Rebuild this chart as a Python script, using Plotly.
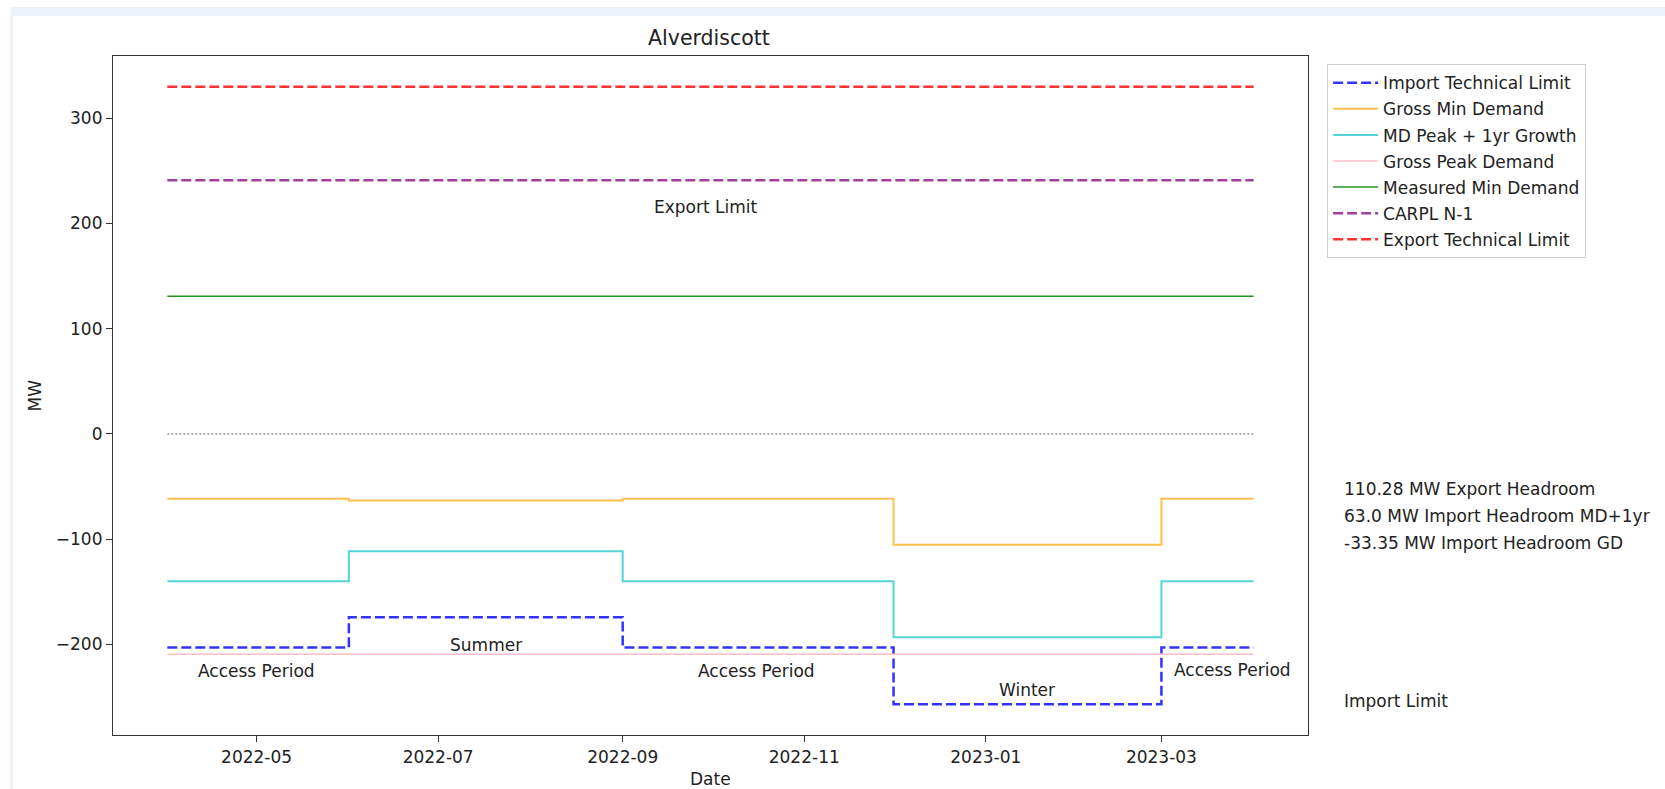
# Alverdiscott - seasonal limits and demand (step chart)

import plotly.graph_objects as go

# Period boundaries (each value holds until the next date)
period_dates = ["2022-04-01", "2022-06-01", "2022-09-01", "2022-12-01", "2023-03-01", "2023-04-01"]

import_technical_limit = [-203.0, -174.1, -203.0, -256.7, -203.0, -203.0]
gross_min_demand = [-61.6, -63.2, -61.6, -105.2, -61.6, -61.6]
md_peak_1yr_growth = [-140.0, -111.5, -140.0, -193.2, -140.0, -140.0]
gross_peak_demand = [-209.4, -209.4, -209.4, -209.4, -209.4, -209.4]
measured_min_demand = [130.72, 130.72, 130.72, 130.72, 130.72, 130.72]
carpl_n1 = [241.0, 241.0, 241.0, 241.0, 241.0, 241.0]
export_technical_limit = [329.7, 329.7, 329.7, 329.7, 329.7, 329.7]
zero_line = [0, 0, 0, 0, 0, 0]

# Period labels inside the plot
period_labels = ["Export Limit", "Summer", "Access Period", "Access Period", "Winter", "Access Period"]
period_label_dates = ["2022-09-29", "2022-07-17", "2022-05-01", "2022-10-16", "2023-01-15", "2023-03-25"]
period_label_values = [215.4, -200.2, -225.0, -225.0, -243.4, -224.0]

# Summary text to the right of the axes
side_texts = ["110.28 MW Export Headroom", "63.0 MW Import Headroom MD+1yr",
              "-33.35 MW Import Headroom GD", "Import Limit"]
side_text_values = [-52.7, -78.1, -103.5, -253.6]

x_tick_dates = ["2022-05-01", "2022-07-01", "2022-09-01", "2022-11-01", "2023-01-01", "2023-03-01"]
y_tick_values = [-200, -100, 0, 100, 200, 300]

FONT = "DejaVu Sans"
TXT = "#222222"

series = [
    ("Import Technical Limit", import_technical_limit, "rgba(0,0,255,0.8)", 2.5, "10px,4px"),
    ("Gross Min Demand", gross_min_demand, "rgba(255,165,0,0.7)", 2, "solid"),
    ("MD Peak + 1yr Growth", md_peak_1yr_growth, "rgba(64,208,208,0.9)", 2, "solid"),
    ("Gross Peak Demand", gross_peak_demand, "#ffc0cb", 1.5, "solid"),
    ("Measured Min Demand", measured_min_demand, "rgba(0,128,0,0.85)", 1.5, "solid"),
    ("CARPL N-1", carpl_n1, "rgba(128,0,128,0.75)", 2.5, "10px,4px"),
    ("Export Technical Limit", export_technical_limit, "rgba(255,0,0,0.8)", 2.5, "10px,4px"),
]

fig = go.Figure()

# thin dotted zero reference line
fig.add_trace(
    go.Scatter(
        x=period_dates,
        y=zero_line,
        mode="lines",
        line=dict(color="rgba(0,0,0,0.75)", width=0.8, dash="2px,2px"),
        showlegend=False,
        hoverinfo="skip",
    )
)

for i, (name, vals, color, width, dash) in enumerate(series):
    fig.add_trace(
        go.Scatter(
            x=period_dates,
            y=vals,
            mode="lines",
            name=name,
            legendgroup=f"g{i}",
            line=dict(color=color, width=width, dash=dash, shape="hv"),
        )
    )

annotations = []
for txt, d, v in zip(period_labels, period_label_dates, period_label_values):
    annotations.append(
        dict(x=d, y=v, xref="x", yref="y", text=txt, showarrow=False,
             xanchor="center", yanchor="middle", font=dict(size=17, color=TXT))
    )
for txt, v in zip(side_texts, side_text_values):
    annotations.append(
        dict(x=1.0285, y=v, xref="paper", yref="y", text=txt, showarrow=False,
             xanchor="left", yanchor="middle", font=dict(size=17, color=TXT))
    )
# axis titles
annotations.append(dict(x=0.5, y=-0.0655, xref="paper", yref="paper", text="Date",
                        showarrow=False, xanchor="center", yanchor="middle",
                        font=dict(size=17, color=TXT)))
annotations.append(dict(x=-0.0653, y=0.5, xref="paper", yref="paper", text="MW",
                        showarrow=False, textangle=-90, xanchor="center", yanchor="middle",
                        font=dict(size=17, color=TXT)))

# notebook-style frame around the figure
shapes = [
    dict(type="rect", xref="paper", yref="paper", x0=-0.0862, x1=1.33, y0=-0.1, y1=1.0722,
         fillcolor="#edf2f8", line=dict(width=0), layer="below"),
    dict(type="rect", xref="paper", yref="paper", x0=-0.0837, x1=1.33, y0=-0.1, y1=1.0589,
         fillcolor="white", line=dict(width=0), layer="below"),
]

fig.update_layout(
    width=1665,
    height=789,
    margin=dict(l=113, r=357, t=56, b=54),
    paper_bgcolor="white",
    plot_bgcolor="white",
    font=dict(family=FONT, size=17, color=TXT),
    title=dict(text="Alverdiscott", xref="paper", x=0.4987, xanchor="center",
               y=1 - 38 / 789, yanchor="middle", font=dict(size=20.5, color=TXT)),
    xaxis=dict(
        type="date",
        range=["2022-03-13 18:00", "2023-04-19 06:00"],
        tickvals=x_tick_dates,
        tickformat="%Y-%m",
        showgrid=False,
        zeroline=False,
        showline=True,
        mirror=True,
        linecolor="#333333",
        linewidth=1.2,
        ticks="outside",
        ticklen=6,
        tickcolor="#333333",
        tickfont=dict(size=17, color=TXT),
    ),
    yaxis=dict(
        range=[-286.0, 359.0],
        tickvals=y_tick_values,
        showgrid=False,
        zeroline=False,
        showline=True,
        mirror=True,
        linecolor="#333333",
        linewidth=1.2,
        ticks="outside",
        ticklen=6,
        tickcolor="#333333",
        tickfont=dict(size=17, color=TXT),
    ),
    legend=dict(
        x=1.016,
        y=0.988,
        xanchor="left",
        yanchor="top",
        bgcolor="white",
        bordercolor="#d0d0d0",
        borderwidth=1,
        traceorder="grouped",
        tracegroupgap=1,
        itemwidth=45,
        font=dict(size=17, color=TXT),
    ),
    annotations=annotations,
    shapes=shapes,
    showlegend=True,
)

# drop the default page margin so the figure sits at the window's corner
fig.write_html(
    "out.html",
    config={"displayModeBar": False},
    post_script="document.body.style.margin='0';document.body.style.overflow='hidden';",
)
